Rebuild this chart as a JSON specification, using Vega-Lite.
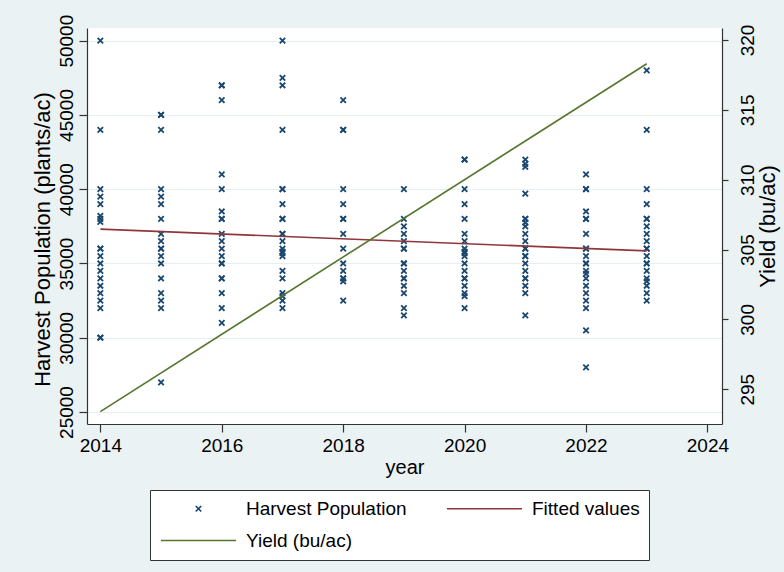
{
  "$schema": "https://vega.github.io/schema/vega-lite/v6.json",
  "autosize": {"type": "none"},
  "padding": {"left": 87, "top": 28, "right": 62, "bottom": 148},
  "width": 635,
  "height": 396,
  "background": "#eaf2f3",
  "config": {
    "view": {"fill": "white", "stroke": null},
    "font": "Liberation Sans",
    "axis": {
      "labelFont": "Liberation Sans",
      "titleFont": "Liberation Sans",
      "labelFontSize": 19,
      "titleFontSize": 20,
      "titleFontWeight": "normal",
      "labelColor": "#000",
      "titleColor": "#000",
      "domainColor": "#333",
      "tickColor": "#333",
      "domainWidth": 1.2,
      "tickWidth": 1.2
    },
    "legend": {
      "labelFont": "Liberation Sans",
      "labelFontSize": 19,
      "labelColor": "#000",
      "labelLimit": 400
    }
  },
  "datasets": {
    "pop": [
      {"year": 2014, "pop": 50000}, {"year": 2014, "pop": 44000}, {"year": 2014, "pop": 40000}, {"year": 2014, "pop": 39500}, {"year": 2014, "pop": 39000}, {"year": 2014, "pop": 38200}, {"year": 2014, "pop": 38000}, {"year": 2014, "pop": 37800}, {"year": 2014, "pop": 36000}, {"year": 2014, "pop": 36000}, {"year": 2014, "pop": 35500}, {"year": 2014, "pop": 35000}, {"year": 2014, "pop": 34500}, {"year": 2014, "pop": 34000}, {"year": 2014, "pop": 33500}, {"year": 2014, "pop": 33000}, {"year": 2014, "pop": 32500}, {"year": 2014, "pop": 32000}, {"year": 2014, "pop": 30000}, {"year": 2014, "pop": 30000},
      {"year": 2015, "pop": 45000}, {"year": 2015, "pop": 45000}, {"year": 2015, "pop": 44000}, {"year": 2015, "pop": 40000}, {"year": 2015, "pop": 39500}, {"year": 2015, "pop": 39000}, {"year": 2015, "pop": 38000}, {"year": 2015, "pop": 37000}, {"year": 2015, "pop": 36500}, {"year": 2015, "pop": 36000}, {"year": 2015, "pop": 36000}, {"year": 2015, "pop": 35500}, {"year": 2015, "pop": 35000}, {"year": 2015, "pop": 34000}, {"year": 2015, "pop": 33000}, {"year": 2015, "pop": 32500}, {"year": 2015, "pop": 32000}, {"year": 2015, "pop": 27000},
      {"year": 2016, "pop": 47000}, {"year": 2016, "pop": 47000}, {"year": 2016, "pop": 46000}, {"year": 2016, "pop": 41000}, {"year": 2016, "pop": 40000}, {"year": 2016, "pop": 38500}, {"year": 2016, "pop": 38000}, {"year": 2016, "pop": 38000}, {"year": 2016, "pop": 37000}, {"year": 2016, "pop": 36500}, {"year": 2016, "pop": 36000}, {"year": 2016, "pop": 35500}, {"year": 2016, "pop": 35000}, {"year": 2016, "pop": 35000}, {"year": 2016, "pop": 34000}, {"year": 2016, "pop": 34000}, {"year": 2016, "pop": 33000}, {"year": 2016, "pop": 32000}, {"year": 2016, "pop": 31000},
      {"year": 2017, "pop": 50000}, {"year": 2017, "pop": 47500}, {"year": 2017, "pop": 47000}, {"year": 2017, "pop": 44000}, {"year": 2017, "pop": 40000}, {"year": 2017, "pop": 40000}, {"year": 2017, "pop": 39000}, {"year": 2017, "pop": 38000}, {"year": 2017, "pop": 38000}, {"year": 2017, "pop": 37000}, {"year": 2017, "pop": 37000}, {"year": 2017, "pop": 36500}, {"year": 2017, "pop": 36000}, {"year": 2017, "pop": 35800}, {"year": 2017, "pop": 35700}, {"year": 2017, "pop": 35500}, {"year": 2017, "pop": 34500}, {"year": 2017, "pop": 34000}, {"year": 2017, "pop": 33000}, {"year": 2017, "pop": 32800}, {"year": 2017, "pop": 32500}, {"year": 2017, "pop": 32000},
      {"year": 2018, "pop": 46000}, {"year": 2018, "pop": 44000}, {"year": 2018, "pop": 44000}, {"year": 2018, "pop": 40000}, {"year": 2018, "pop": 39000}, {"year": 2018, "pop": 38000}, {"year": 2018, "pop": 38000}, {"year": 2018, "pop": 37000}, {"year": 2018, "pop": 36000}, {"year": 2018, "pop": 35000}, {"year": 2018, "pop": 34500}, {"year": 2018, "pop": 34000}, {"year": 2018, "pop": 34000}, {"year": 2018, "pop": 33800}, {"year": 2018, "pop": 32500},
      {"year": 2019, "pop": 40000}, {"year": 2019, "pop": 38000}, {"year": 2019, "pop": 37500}, {"year": 2019, "pop": 37000}, {"year": 2019, "pop": 36500}, {"year": 2019, "pop": 36000}, {"year": 2019, "pop": 36000}, {"year": 2019, "pop": 35000}, {"year": 2019, "pop": 35000}, {"year": 2019, "pop": 34500}, {"year": 2019, "pop": 34000}, {"year": 2019, "pop": 34000}, {"year": 2019, "pop": 33500}, {"year": 2019, "pop": 33000}, {"year": 2019, "pop": 32000}, {"year": 2019, "pop": 31500},
      {"year": 2020, "pop": 42000}, {"year": 2020, "pop": 42000}, {"year": 2020, "pop": 40000}, {"year": 2020, "pop": 39000}, {"year": 2020, "pop": 38000}, {"year": 2020, "pop": 37000}, {"year": 2020, "pop": 36500}, {"year": 2020, "pop": 36000}, {"year": 2020, "pop": 35800}, {"year": 2020, "pop": 35700}, {"year": 2020, "pop": 35500}, {"year": 2020, "pop": 35000}, {"year": 2020, "pop": 34500}, {"year": 2020, "pop": 34000}, {"year": 2020, "pop": 34000}, {"year": 2020, "pop": 33500}, {"year": 2020, "pop": 33000}, {"year": 2020, "pop": 32800}, {"year": 2020, "pop": 32000},
      {"year": 2021, "pop": 42000}, {"year": 2021, "pop": 41700}, {"year": 2021, "pop": 41500}, {"year": 2021, "pop": 39700}, {"year": 2021, "pop": 38000}, {"year": 2021, "pop": 38000}, {"year": 2021, "pop": 37750}, {"year": 2021, "pop": 37500}, {"year": 2021, "pop": 37000}, {"year": 2021, "pop": 36500}, {"year": 2021, "pop": 36000}, {"year": 2021, "pop": 36000}, {"year": 2021, "pop": 35500}, {"year": 2021, "pop": 35500}, {"year": 2021, "pop": 35000}, {"year": 2021, "pop": 34500}, {"year": 2021, "pop": 34000}, {"year": 2021, "pop": 34000}, {"year": 2021, "pop": 33500}, {"year": 2021, "pop": 33000}, {"year": 2021, "pop": 31500},
      {"year": 2022, "pop": 41000}, {"year": 2022, "pop": 40000}, {"year": 2022, "pop": 40000}, {"year": 2022, "pop": 38500}, {"year": 2022, "pop": 38000}, {"year": 2022, "pop": 38000}, {"year": 2022, "pop": 37000}, {"year": 2022, "pop": 36000}, {"year": 2022, "pop": 36000}, {"year": 2022, "pop": 35500}, {"year": 2022, "pop": 35000}, {"year": 2022, "pop": 35000}, {"year": 2022, "pop": 34500}, {"year": 2022, "pop": 34300}, {"year": 2022, "pop": 34000}, {"year": 2022, "pop": 33500}, {"year": 2022, "pop": 33000}, {"year": 2022, "pop": 32500}, {"year": 2022, "pop": 32000}, {"year": 2022, "pop": 30500}, {"year": 2022, "pop": 28000},
      {"year": 2023, "pop": 48000}, {"year": 2023, "pop": 44000}, {"year": 2023, "pop": 40000}, {"year": 2023, "pop": 39000}, {"year": 2023, "pop": 38000}, {"year": 2023, "pop": 38000}, {"year": 2023, "pop": 37500}, {"year": 2023, "pop": 37000}, {"year": 2023, "pop": 36500}, {"year": 2023, "pop": 36000}, {"year": 2023, "pop": 36000}, {"year": 2023, "pop": 35500}, {"year": 2023, "pop": 35000}, {"year": 2023, "pop": 35000}, {"year": 2023, "pop": 34500}, {"year": 2023, "pop": 34000}, {"year": 2023, "pop": 33800}, {"year": 2023, "pop": 33500}, {"year": 2023, "pop": 33000}, {"year": 2023, "pop": 32500}
    ],
    "fit": [
      {"year": 2014, "fitted": 37310},
      {"year": 2023, "fitted": 35850}
    ],
    "yield": [
      {"year": 2014, "yield": 293.4},
      {"year": 2023, "yield": 318.3}
    ]
  },
  "layer": [
    {
      "layer": [
        {
          "data": {"name": "pop"},
          "mark": {"type": "point", "filled": false, "size": 30, "strokeWidth": 1.8, "opacity": 1},
          "encoding": {
            "x": {
              "field": "year", "type": "quantitative",
              "scale": {"domain": [2013.78, 2024.24], "nice": false, "zero": false},
              "axis": {"title": "year", "values": [2014, 2016, 2018, 2020, 2022, 2024], "format": "d", "grid": false, "tickSize": 8, "labelPadding": 4, "titlePadding": 2, "labelFlush": false}
            },
            "y": {
              "field": "pop", "type": "quantitative",
              "scale": {"domain": [24192, 50855], "nice": false, "zero": false},
              "axis": {"title": "Harvest Population (plants/ac)", "titleFontSize": 22, "format": "d", "values": [25000, 30000, 35000, 40000, 45000, 50000], "grid": true, "gridColor": "#e6eef1", "gridWidth": 1.2, "tickSize": 8, "labelAngle": 270, "labelAlign": "center", "labelBaseline": "bottom", "labelPadding": 3, "titlePadding": 3, "titleY": 211, "labelFlush": false}
            },
            "shape": {
              "datum": "Harvest Population",
              "type": "nominal",
              "scale": {"domain": ["Harvest Population", "Fitted values", "Yield (bu/ac)"], "range": ["M-1,-1L1,1M-1,1L1,-1", "M-13.7,0L13.7,0", "M-13.7,0L13.7,0"]},
              "legend": {
                "title": null, "orient": "none", "legendX": 63, "legendY": 462,
                "direction": "horizontal", "columns": 2, "columnPadding": 36, "rowPadding": 12, "padding": 9,
                "strokeColor": "#333", "fillColor": "white",
                "symbolSize": 30, "symbolStrokeWidth": 1.6, "symbolOffset": 30, "labelOffset": 38
              }
            },
            "color": {
              "datum": "Harvest Population",
              "type": "nominal",
              "scale": {"domain": ["Harvest Population", "Fitted values", "Yield (bu/ac)"], "range": ["#1a476f", "#90353b", "#55752f"]},
              "legend": {
                "title": null, "orient": "none", "legendX": 63, "legendY": 462,
                "direction": "horizontal", "columns": 2, "columnPadding": 36, "rowPadding": 12, "padding": 9,
                "strokeColor": "#333", "fillColor": "white",
                "symbolSize": 30, "symbolStrokeWidth": 1.6, "symbolOffset": 30, "labelOffset": 38
              }
            }
          }
        },
        {
          "data": {"name": "fit"},
          "mark": {"type": "line", "strokeWidth": 1.6},
          "encoding": {
            "x": {"field": "year", "type": "quantitative"},
            "y": {"field": "fitted", "type": "quantitative"},
            "color": {"datum": "Fitted values", "type": "nominal"}
          }
        }
      ]
    },
    {
      "data": {"name": "yield"},
      "mark": {"type": "line", "strokeWidth": 1.6},
      "encoding": {
        "x": {"field": "year", "type": "quantitative"},
        "y": {
          "field": "yield", "type": "quantitative",
          "scale": {"domain": [292.51, 320.86], "nice": false, "zero": false},
          "axis": {"orient": "right", "title": "Yield (bu/ac)", "titleFontSize": 22, "values": [295, 300, 305, 310, 315, 320], "grid": false, "tickSize": 6, "labelAngle": 270, "labelAlign": "center", "labelBaseline": "top", "labelPadding": 10, "titleAngle": 270, "titleBaseline": "top", "titlePadding": 0, "labelFlush": false}
        },
        "color": {"datum": "Yield (bu/ac)", "type": "nominal"}
      }
    }
  ],
  "resolve": {"scale": {"y": "independent"}}
}
